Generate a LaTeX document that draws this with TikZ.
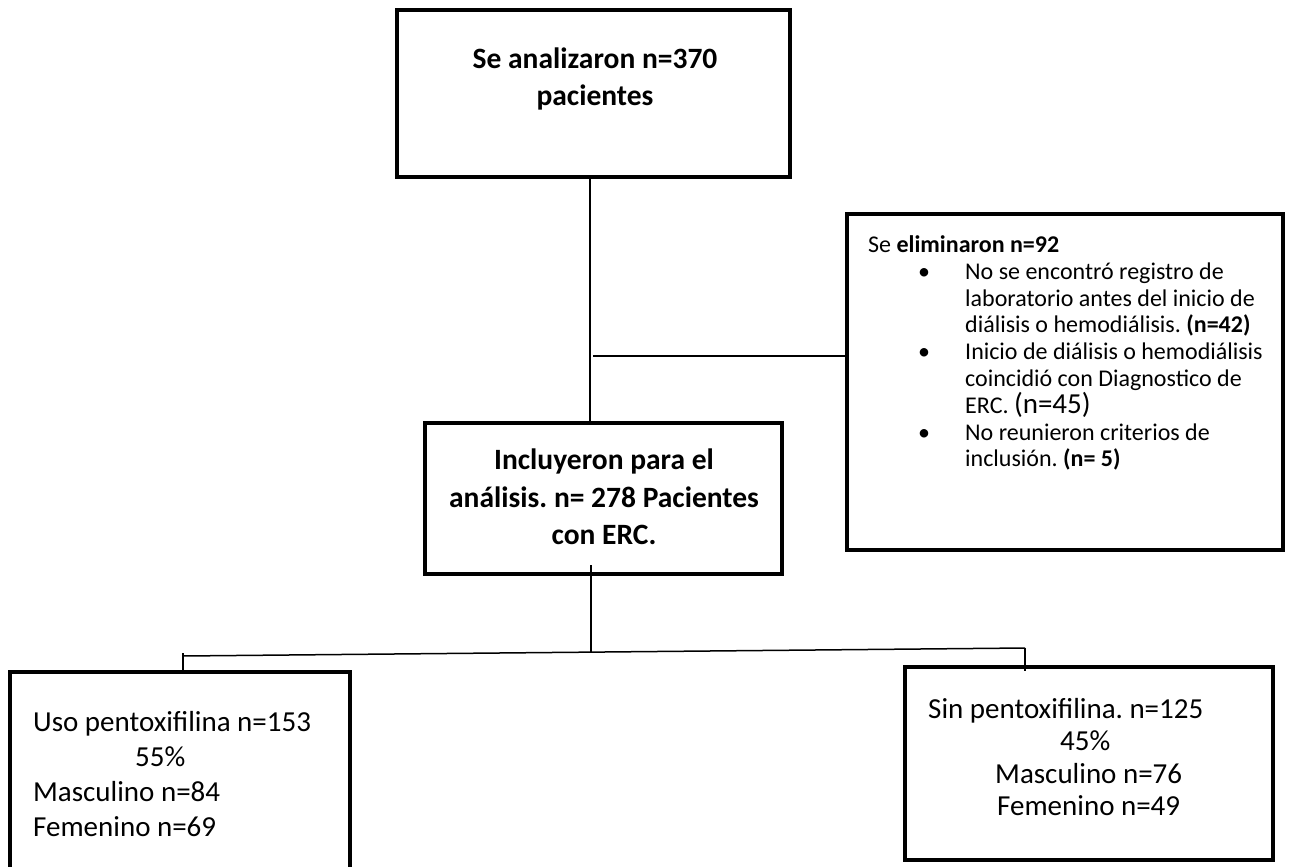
\documentclass[tikz,border=0pt]{standalone}
\usepackage{fontspec}
\setmainfont{Carlito}
\begin{document}
\frenchspacing
\begin{tikzpicture}[x=1pt,y=-1pt,
  box/.style={draw=black,line width=4pt,inner sep=0pt,minimum width=#1},
  conn/.style={draw=black,line width=1.5pt},
  bigbold/.style={inner sep=0pt,align=center,font=\fontsize{29.5}{37.5}\selectfont\bfseries},
  listtxt/.style={inner sep=0pt,align=left,anchor=west,font=\fontsize{24}{26.8}\selectfont},
  grouptxt/.style={inner sep=0pt,align=left,anchor=west}]
\useasboundingbox (0,0) rectangle (1290,867);

% boxes
\node[box=393pt,minimum height=167pt] (box1) at (593.5,93.5) {};
\node[box=357pt,minimum height=151pt] (box2) at (603.5,498.5) {};
\node[box=436pt,minimum height=336pt] (boxR) at (1065,382) {};
\node[box=340pt,minimum height=200pt] (boxL) at (180,772) {};
\node[box=368pt,minimum height=193pt] (boxB) at (1089,763.5) {};

% texts
\node[bigbold] (t1) at (595,79) {Se analizaron n=370\\pacientes};
\node[bigbold] (t2) at (604,497) {Incluyeron para el\\an\'alisis. n= 278 Pacientes\\con ERC.};
\node[listtxt] (tR) at (868,353) {Se \textbf{eliminaron n=92}\\
\hspace*{50pt}\makebox[47pt][l]{•}No se encontró registro de\\
\hspace*{97pt}laboratorio antes del inicio de\\
\hspace*{97pt}diálisis o hemodiálisis. \textbf{(n=42)}\\
\hspace*{50pt}\makebox[47pt][l]{•}Inicio de diálisis o hemodiálisis\\
\hspace*{97pt}coincidió con Diagnostico de\\
\hspace*{97pt}ERC. {\fontsize{29}{26.8}\selectfont(n=45)}\\
\hspace*{50pt}\makebox[47pt][l]{•}No reunieron criterios de\\
\hspace*{97pt}inclusión. \textbf{(n= 5)}};
\node[grouptxt,font=\fontsize{29}{35}\selectfont] (tL) at (33,774.5) {Uso pentoxifilina n=153\\
\hspace*{102pt}55\%\\
Masculino n=84\\
Femenino n=69};
\node[grouptxt,font=\fontsize{29}{32.5}\selectfont] (tB) at (928,757) {Sin pentoxifilina. n=125\\
\hspace*{132pt}45\%\\
\hspace*{67pt}Masculino n=76\\
\hspace*{69pt}Femenino n=49};

% connectors
\coordinate (vx) at (590,0);
\draw[conn] (box1.south -| vx) -- (box2.north -| vx);
\coordinate (jb) at (593,356);
\draw[conn] (jb) -- (jb -| boxR.west);
\coordinate (vx2) at (591,0);
\coordinate (hmid) at (591,652);
\draw[conn] ([yshift=11pt]box2.south -| vx2) -- (hmid);
\coordinate (hl) at (183,656);
\coordinate (hr) at (1025,648);
\draw[conn] (hl) -- (hr);
\draw[conn] ([yshift=3pt]hl) -- ([yshift=-4pt]boxL.north -| hl);
\draw[conn] (hr) -- ([yshift=-6pt]boxB.north -| hr);
\end{tikzpicture}
\end{document}
